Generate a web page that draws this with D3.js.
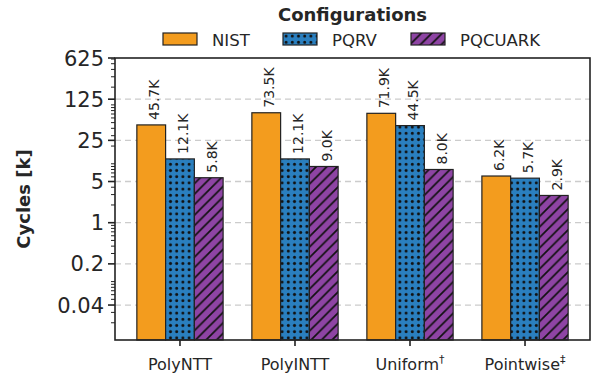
<!DOCTYPE html>
<html>
<head>
<meta charset="utf-8">
<script src="https://cdn.jsdelivr.net/npm/d3@7"></script>
<style>
  body { margin: 0; background: #fff; }
  text { font-family: "DejaVu Sans", sans-serif; fill: #262626; }
</style>
</head>
<body>
<div id="chart"></div>
<script>
// data (cycles, in thousands)
var categories = ['PolyNTT', 'PolyINTT', 'Uniform', 'Pointwise'];
var catMarks   = ['', '', '\u2020', '\u2021'];
var configs    = ['NIST', 'PQRV', 'PQCUARK'];
var nistVals    = [45.7, 73.5, 71.9, 6.2];
var pqrvVals    = [12.1, 12.1, 44.5, 5.7];
var pqcuarkVals = [5.8, 9.0, 8.0, 2.9];
var yTicks      = [625, 125, 25, 5, 1, 0.2, 0.04];
var yTickLabels = ['625', '125', '25', '5', '1', '0.2', '0.04'];

var series = [nistVals, pqrvVals, pqcuarkVals];
var fills  = ['#f39c1e', 'url(#dots)', 'url(#hatch)'];

var W = 596, H = 381;
var margin = {left: 115, right: 6, top: 58, bottom: 41};

var svg = d3.select('#chart').append('svg')
    .attr('width', W).attr('height', H);

// patterns
var defs = svg.append('defs');
var dots = defs.append('pattern').attr('id', 'dots')
    .attr('patternUnits', 'userSpaceOnUse')
    .attr('width', 6.2).attr('height', 6.2);
dots.append('rect').attr('width', 6.2).attr('height', 6.2).attr('fill', '#2a7fbf');
dots.append('circle').attr('cx', 3.1).attr('cy', 3.1).attr('r', 1.5).attr('fill', '#111');

var hs = 10.5;
var hatch = defs.append('pattern').attr('id', 'hatch')
    .attr('patternUnits', 'userSpaceOnUse')
    .attr('width', hs).attr('height', hs);
hatch.append('rect').attr('width', hs).attr('height', hs).attr('fill', '#8e44a4');
hatch.append('path')
    .attr('d', 'M-2,' + (hs + 2) + ' L' + (hs + 2) + ',-2 M-4,4 L4,-4 M' + (hs - 4) + ',' + (hs + 4) + ' L' + (hs + 4) + ',' + (hs - 4))
    .attr('stroke', '#111').attr('stroke-width', 1.7);

var x = d3.scalePoint().domain(categories)
    .range([margin.left, W - margin.right]).padding(0.565);
var barW = x.step() * 0.25;

var y = d3.scaleLog().base(5).domain([0.0102, 625])
    .range([H - margin.bottom, margin.top]);

var plotL = margin.left, plotR = W - margin.right;
var plotT = margin.top, plotB = H - margin.bottom;

// grid
svg.append('g').selectAll('line').data(yTicks.slice(1)).enter().append('line')
    .attr('x1', plotL).attr('x2', plotR)
    .attr('y1', d => y(d)).attr('y2', d => y(d))
    .attr('stroke', '#cccccc').attr('stroke-width', 1.3)
    .attr('stroke-dasharray', '6,4');

// bars
series.forEach((vals, s) => {
    var g = svg.append('g');
    g.selectAll('rect').data(vals).enter().append('rect')
        .attr('x', (d, i) => x(categories[i]) + (s - 1.5) * barW)
        .attr('width', barW)
        .attr('y', d => y(d))
        .attr('height', d => y.range()[0] - y(d))
        .attr('fill', fills[s])
        .attr('stroke', '#222').attr('stroke-width', 1.2);

    g.selectAll('text').data(vals).enter().append('text')
        .attr('transform', (d, i) => 'translate(' + (x(categories[i]) + (s - 1) * barW + 3) + ',' + (y(d) - 5) + ') rotate(-90)')
        .attr('dy', '0.36em')
        .attr('font-size', 14)
        .text(d => d.toFixed(1) + 'K');
});

// minor ticks (decade style)
var minor = [];
for (var n = -2; n <= 2; n++) {
    for (var k = 1; k <= 9; k++) {
        var v = k * Math.pow(10, n);
        if (v >= 0.0102 && v <= 625 && !yTicks.some(t => Math.abs(t - v) / t < 1e-6)) minor.push(v);
    }
}
svg.append('g').selectAll('line').data(minor).enter().append('line')
    .attr('x1', plotL - 4).attr('x2', plotL)
    .attr('y1', d => y(d)).attr('y2', d => y(d))
    .attr('stroke', '#222').attr('stroke-width', 1);

// major y ticks
var yt = svg.append('g');
yt.selectAll('line').data(yTicks).enter().append('line')
    .attr('x1', plotL - 7).attr('x2', plotL)
    .attr('y1', d => y(d)).attr('y2', d => y(d))
    .attr('stroke', '#222').attr('stroke-width', 1.6);
yt.selectAll('text').data(yTicks).enter().append('text')
    .attr('x', plotL - 11).attr('y', d => y(d))
    .attr('dy', '0.36em').attr('text-anchor', 'end')
    .attr('font-size', 21)
    .text((d, i) => yTickLabels[i]);

// x ticks
var xt = svg.append('g');
xt.selectAll('line').data(categories).enter().append('line')
    .attr('x1', d => x(d)).attr('x2', d => x(d))
    .attr('y1', plotB).attr('y2', plotB + 6)
    .attr('stroke', '#222').attr('stroke-width', 1.6);
var xl = xt.selectAll('text').data(categories).enter().append('text')
    .attr('x', d => x(d)).attr('y', plotB + 30)
    .attr('text-anchor', 'middle').attr('font-size', 16);
xl.append('tspan').text(d => d);
xl.append('tspan').attr('dy', -7).attr('font-size', 11)
    .text((d, i) => catMarks[i]);

// frame
svg.append('rect')
    .attr('x', plotL).attr('y', plotT)
    .attr('width', plotR - plotL).attr('height', plotB - plotT)
    .attr('fill', 'none').attr('stroke', '#222').attr('stroke-width', 1.6);

// y label
svg.append('text')
    .attr('transform', 'translate(30,' + ((plotT + plotB) / 2) + ') rotate(-90)')
    .attr('text-anchor', 'middle').attr('font-size', 18).attr('font-weight', 'bold')
    .text('Cycles [k]');

// legend
var cx = (plotL + plotR) / 2;
svg.append('text').attr('x', cx).attr('y', 21)
    .attr('text-anchor', 'middle').attr('font-size', 18).attr('font-weight', 'bold')
    .text('Configurations');

var legendX = [163, 283, 411];
var lg = svg.append('g').selectAll('g').data(configs).enter().append('g')
    .attr('transform', (d, i) => 'translate(' + legendX[i] + ',33)');
lg.append('rect').attr('width', 34).attr('height', 12)
    .attr('fill', (d, i) => fills[i])
    .attr('stroke', '#222').attr('stroke-width', 1.2);
lg.append('text').attr('x', 49).attr('y', 12.5)
    .attr('font-size', 16.5).text(d => d);
</script>
</body>
</html>
